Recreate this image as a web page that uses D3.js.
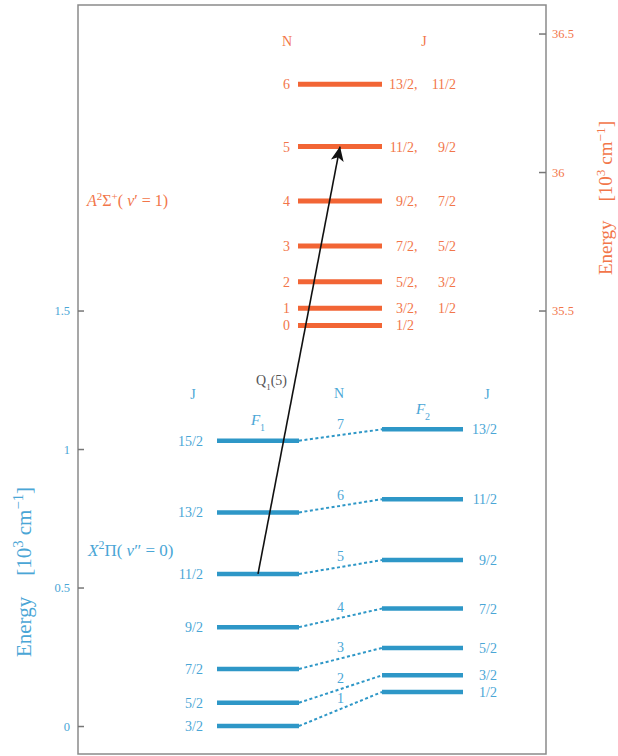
<!DOCTYPE html>
<html>
<head>
<meta charset="utf-8">
<script src="https://cdn.jsdelivr.net/npm/d3@7"></script>
<style>
  body { margin: 0; background: #fff; }
  text { font-family: "Liberation Serif", "DejaVu Serif", serif; }
</style>
</head>
<body>
<div id="chart"></div>
<script>
// X2Pi (v''=0) ground state, energies in 10^3 cm^-1
const f1J = ["3/2", "5/2", "7/2", "9/2", "11/2", "13/2", "15/2"];
const f1Energy = [0, 0.084, 0.206, 0.357, 0.549, 0.771, 1.030];
const f2J = ["1/2", "3/2", "5/2", "7/2", "9/2", "11/2", "13/2"];
const f2Energy = [0.123, 0.183, 0.282, 0.424, 0.599, 0.819, 1.071];
const xN = [1, 2, 3, 4, 5, 6, 7];

// A2Sigma+ (v'=1) excited state, energies in 10^3 cm^-1
const aN = [0, 1, 2, 3, 4, 5, 6];
const aEnergy = [35.446, 35.508, 35.604, 35.733, 35.895, 36.092, 36.317];
const aJ1 = ["1/2", "3/2", "5/2", "7/2", "9/2", "11/2", "13/2"];
const aJ2 = ["", "1/2", "3/2", "5/2", "7/2", "9/2", "11/2"];

const leftTicks = [0, 0.5, 1, 1.5];
const rightTicks = [35.5, 36, 36.5];
const rightOffset = 34;

const blue = "#2e97c7", blueText = "#4aa6d6";
const orange = "#f26535", orangeText = "#f2764a";

const width = 618, height = 756;
const margin = {left: 78, right: 72, top: 5, bottom: 2};
const fs = 14;

const svg = d3.select("#chart").append("svg")
    .attr("width", width)
    .attr("height", height);

const yLeft = d3.scaleLinear().domain([-0.101, 2.603]).range([height - margin.bottom, margin.top]);
const yRight = d3.scaleLinear().domain([-0.101 + rightOffset, 2.603 + rightOffset]).range(yLeft.range());

// column positions
const f1X = [217, 299], f2X = [382, 463], aX = [298, 382];

// frame
svg.append("rect")
    .attr("x", margin.left).attr("y", margin.top)
    .attr("width", width - margin.left - margin.right)
    .attr("height", height - margin.top - margin.bottom)
    .attr("fill", "none").attr("stroke", "#8a8a8a").attr("stroke-width", 1.5);

const gL = svg.append("g")
    .attr("transform", `translate(${margin.left},0)`)
    .call(d3.axisLeft(yLeft).tickValues(leftTicks).tickSize(-6).tickPadding(8).tickFormat(d3.format("")));
gL.select(".domain").remove();
gL.selectAll(".tick line").attr("stroke", "#777").attr("stroke-width", 1.5);
gL.selectAll(".tick text").attr("fill", blueText).attr("font-size", 12.5)
    .style("font-family", "Liberation Serif, serif");

const gR = svg.append("g")
    .attr("transform", `translate(${width - margin.right},0)`)
    .call(d3.axisRight(yRight).tickValues(rightTicks).tickSize(-7).tickPadding(6).tickFormat(d3.format("")));
gR.select(".domain").remove();
gR.selectAll(".tick line").attr("stroke", "#777").attr("stroke-width", 1.5);
gR.selectAll(".tick text").attr("fill", orangeText).attr("font-size", 12.5)
    .style("font-family", "Liberation Serif, serif");

// axis titles
function energyTitle(x, y, colour, size) {
    const t = svg.append("text")
        .attr("transform", `translate(${x},${y}) rotate(-90)`)
        .attr("text-anchor", "middle")
        .attr("fill", colour).attr("font-size", size);
    t.append("tspan").text("Energy\u2002\u2002[10");
    t.append("tspan").attr("baseline-shift", "super").attr("font-size", size * 0.7).text("3");
    t.append("tspan").text(" cm");
    t.append("tspan").attr("baseline-shift", "super").attr("font-size", size * 0.7).text("\u22121");
    t.append("tspan").text("]");
}
energyTitle(31, 572, blueText, 21);
energyTitle(612, 198, orangeText, 19);

// dashed connectors F1 -> F2 (same N)
svg.selectAll(".conn").data(xN).join("line")
    .attr("class", "conn")
    .attr("x1", f1X[1]).attr("y1", (d, i) => yLeft(f1Energy[i]))
    .attr("x2", f2X[0]).attr("y2", (d, i) => yLeft(f2Energy[i]))
    .attr("stroke", blue).attr("stroke-width", 2).attr("stroke-dasharray", "3,2.5");

svg.selectAll(".nlab").data(xN).join("text")
    .attr("class", "nlab")
    .attr("x", (f1X[1] + f2X[0]) / 2)
    .attr("y", (d, i) => (yLeft(f1Energy[i]) + yLeft(f2Energy[i])) / 2 - 6)
    .attr("text-anchor", "middle").attr("fill", blueText).attr("font-size", fs)
    .text(d => d);

// F1 levels
svg.selectAll(".f1").data(f1Energy).join("line")
    .attr("class", "f1")
    .attr("x1", f1X[0]).attr("x2", f1X[1])
    .attr("y1", d => yLeft(d)).attr("y2", d => yLeft(d))
    .attr("stroke", blue).attr("stroke-width", 4.5);
svg.selectAll(".f1j").data(f1J).join("text")
    .attr("class", "f1j")
    .attr("x", f1X[0] - 14).attr("y", (d, i) => yLeft(f1Energy[i]) + 5)
    .attr("text-anchor", "end").attr("fill", blueText).attr("font-size", fs)
    .text(d => d);

// F2 levels
svg.selectAll(".f2").data(f2Energy).join("line")
    .attr("class", "f2")
    .attr("x1", f2X[0]).attr("x2", f2X[1])
    .attr("y1", d => yLeft(d)).attr("y2", d => yLeft(d))
    .attr("stroke", blue).attr("stroke-width", 4.5);
svg.selectAll(".f2j").data(f2J).join("text")
    .attr("class", "f2j")
    .attr("x", f2X[1] + 34).attr("y", (d, i) => yLeft(f2Energy[i]) + 5)
    .attr("text-anchor", "end").attr("fill", blueText).attr("font-size", fs)
    .text(d => d);

// A state levels
svg.selectAll(".alev").data(aEnergy).join("line")
    .attr("class", "alev")
    .attr("x1", aX[0]).attr("x2", aX[1])
    .attr("y1", d => yRight(d)).attr("y2", d => yRight(d))
    .attr("stroke", orange).attr("stroke-width", 5);
svg.selectAll(".an").data(aN).join("text")
    .attr("class", "an")
    .attr("x", aX[0] - 8).attr("y", (d, i) => yRight(aEnergy[i]) + 5)
    .attr("text-anchor", "end").attr("fill", orangeText).attr("font-size", fs)
    .text(d => d);
svg.selectAll(".aj1").data(aJ1).join("text")
    .attr("class", "aj1")
    .attr("x", aX[1] + 32).attr("y", (d, i) => yRight(aEnergy[i]) + 5)
    .attr("text-anchor", "end").attr("fill", orangeText).attr("font-size", fs)
    .text(d => d);
svg.selectAll(".acomma").data(aJ2).join("text")
    .attr("class", "acomma")
    .attr("x", aX[1] + 32).attr("y", (d, i) => yRight(aEnergy[i]) + 5)
    .attr("fill", orangeText).attr("font-size", fs)
    .text(d => d ? "," : "");
svg.selectAll(".aj2").data(aJ2).join("text")
    .attr("class", "aj2")
    .attr("x", aX[1] + 74).attr("y", (d, i) => yRight(aEnergy[i]) + 5)
    .attr("text-anchor", "end").attr("fill", orangeText).attr("font-size", fs)
    .text(d => d);

// column headers
function header(x, y, txt, colour) {
    svg.append("text").attr("x", x).attr("y", y).attr("text-anchor", "middle")
        .attr("fill", colour).attr("font-size", fs).text(txt);
}
header(287, 46, "N", orangeText);
header(424, 46, "J", orangeText);
header(193, 399, "J", blueText);
header(339, 398, "N", blueText);
header(487, 399, "J", blueText);

function fLabel(x, y, sub) {
    const t = svg.append("text").attr("x", x).attr("y", y).attr("text-anchor", "middle")
        .attr("fill", blueText).attr("font-size", 15);
    t.append("tspan").attr("font-style", "italic").text("F");
    t.append("tspan").attr("baseline-shift", "sub").attr("font-size", 10).text(sub);
}
fLabel(258, 425, "1");
fLabel(423, 414, "2");

// state labels
const xs = svg.append("text").attr("x", 88).attr("y", 556).attr("fill", blueText).attr("font-size", 17);
xs.append("tspan").attr("font-style", "italic").text("X");
xs.append("tspan").attr("baseline-shift", "super").attr("font-size", 12).text("2");
xs.append("tspan").text("\u03A0( ");
xs.append("tspan").attr("font-style", "italic").text("v");
xs.append("tspan").text("\u2033 = 0)");

const as = svg.append("text").attr("x", 87).attr("y", 206).attr("fill", orangeText).attr("font-size", 16);
as.append("tspan").attr("font-style", "italic").text("A");
as.append("tspan").attr("baseline-shift", "super").attr("font-size", 11).text("2");
as.append("tspan").text("\u03A3");
as.append("tspan").attr("baseline-shift", "super").attr("font-size", 11).text("+");
as.append("tspan").text("( ");
as.append("tspan").attr("font-style", "italic").text("v");
as.append("tspan").text("\u2032 = 1)");

// Q1(5) transition arrow: F1 J=11/2 -> A N=5
svg.append("defs").append("marker")
    .attr("id", "arrow").attr("viewBox", "0 0 10 10")
    .attr("refX", 10).attr("refY", 5)
    .attr("markerWidth", 9).attr("markerHeight", 9)
    .attr("markerUnits", "strokeWidth")
    .attr("orient", "auto")
    .append("path").attr("d", "M0,0.5 L10,5 L0,9.5 L2.5,5 Z").attr("fill", "#111");

svg.append("line")
    .attr("x1", 258).attr("y1", yLeft(f1Energy[4]))
    .attr("x2", 340).attr("y2", yRight(aEnergy[5]))
    .attr("stroke", "#111").attr("stroke-width", 1.6)
    .attr("marker-end", "url(#arrow)");

const q = svg.append("text").attr("x", 256).attr("y", 385).attr("fill", "#555").attr("font-size", 14);
q.append("tspan").text("Q");
q.append("tspan").attr("baseline-shift", "sub").attr("font-size", 9).text("1");
q.append("tspan").text("(5)");
</script>
</body>
</html>
